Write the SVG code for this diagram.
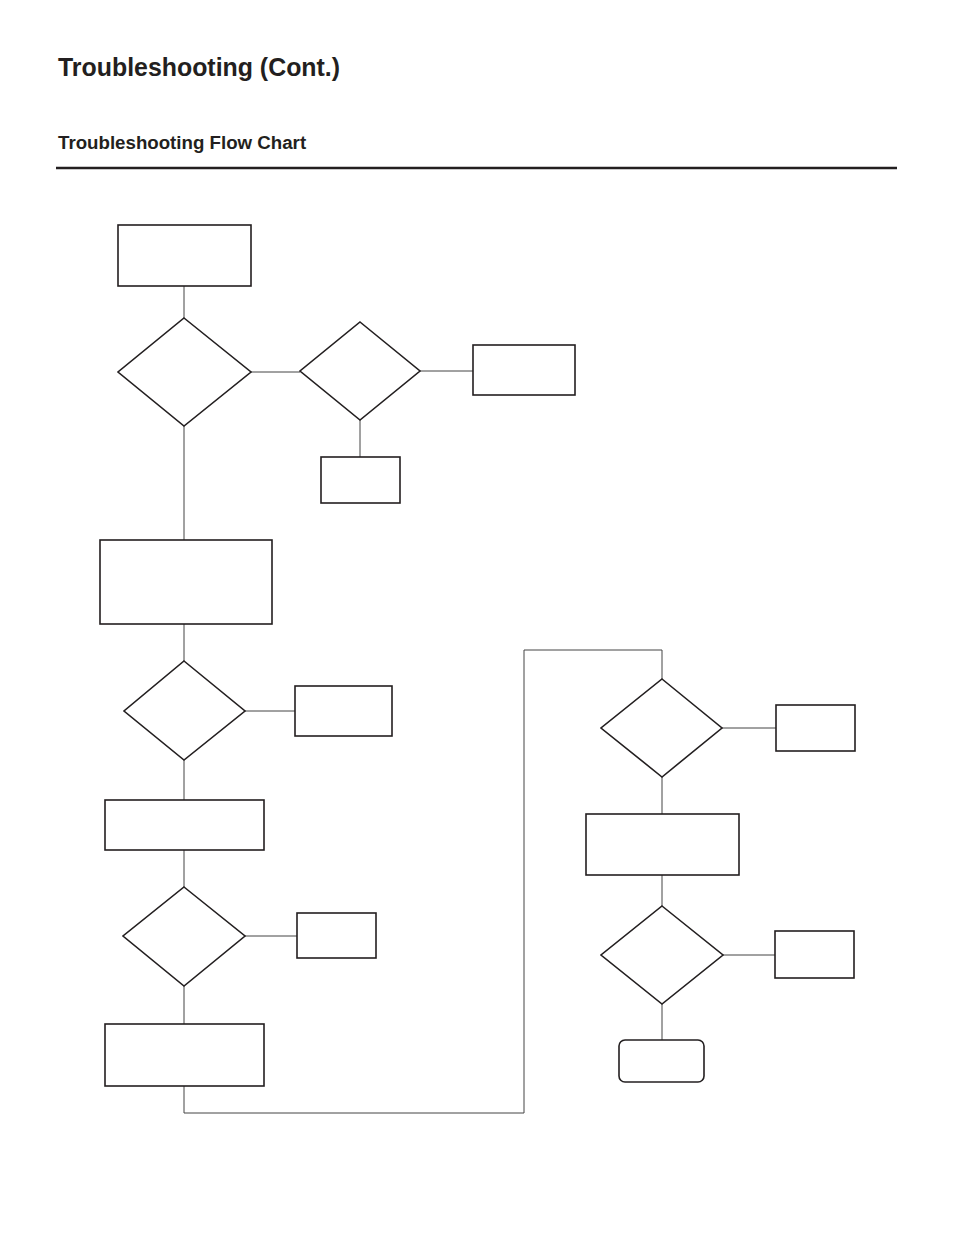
<svg xmlns="http://www.w3.org/2000/svg" width="954" height="1235" viewBox="0 0 954 1235">
<style>
.n{fill:#fff;stroke:#231f20;stroke-width:1.6}
.c{fill:none;stroke:#444;stroke-width:1}
.t{font-family:"Liberation Sans",Arial,sans-serif;font-weight:bold;fill:#231f20}
</style>
<rect width="954" height="1235" fill="#fff"/>
<text class="t" x="58" y="76" font-size="24.9">Troubleshooting (Cont.)</text>
<text class="t" x="58" y="149" font-size="18.7">Troubleshooting Flow Chart</text>
<line x1="56" y1="168" x2="897" y2="168" stroke="#231f20" stroke-width="2.5"/>
<g id="connectors">
<path class="c" d="M184 286V318M251 372H300M420 371H473M360 420V457M184 426V540M184 624V661M245 711H295M184 760V800M184 850V887M245 936H297M184 986V1024M184 1086V1113H524V650H662V679M722 728H776M662 777V814M662 875V906M723 955H775M662 1004V1040"/>
</g>
<g id="b1"><rect class="n" x="118" y="225" width="133" height="61"/></g>
<g id="d1"><polygon class="n" points="184,318 251,372 184,426 118,372"/></g>
<g id="d2"><polygon class="n" points="360,322 420,371 360,420 300,371"/></g>
<g id="b2"><rect class="n" x="473" y="345" width="102" height="50"/></g>
<g id="b3"><rect class="n" x="321" y="457" width="79" height="46"/></g>
<g id="b4"><rect class="n" x="100" y="540" width="172" height="84"/></g>
<g id="d3"><polygon class="n" points="184,661 245,711 184,760 124,711"/></g>
<g id="b5"><rect class="n" x="295" y="686" width="97" height="50"/></g>
<g id="b6"><rect class="n" x="105" y="800" width="159" height="50"/></g>
<g id="d4"><polygon class="n" points="184,887 245,936 184,986 123,936"/></g>
<g id="b7"><rect class="n" x="297" y="913" width="79" height="45"/></g>
<g id="b8"><rect class="n" x="105" y="1024" width="159" height="62"/></g>
<g id="d5"><polygon class="n" points="662,679 722,728 662,777 601,728"/></g>
<g id="b9"><rect class="n" x="776" y="705" width="79" height="46"/></g>
<g id="b10"><rect class="n" x="586" y="814" width="153" height="61"/></g>
<g id="d6"><polygon class="n" points="662,906 723,955 662,1004 601,955"/></g>
<g id="b11"><rect class="n" x="775" y="931" width="79" height="47"/></g>
<g id="end"><rect class="n" x="619" y="1040" width="85" height="42" rx="6"/></g>
</svg>
